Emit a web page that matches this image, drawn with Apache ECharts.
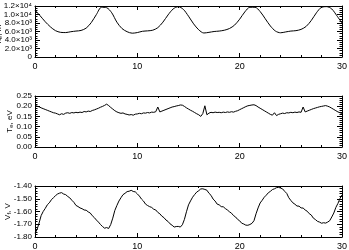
<!DOCTYPE html>
<html><head><meta charset="utf-8">
<script src="https://cdn.jsdelivr.net/npm/echarts@6/dist/echarts.min.js"></script>
<style>html,body{margin:0;padding:0;background:#fff}#c{width:349px;height:250px}</style>
</head><body><div id="c"></div>
<script>
// time step of each sampled series (time axis 0..30)
const dtN = 0.5;
const dtT = 0.2;
const xTicks = [0, 10, 20, 30];

// density, sampled every 0.5
const nVals = [
 11000, 9700, 8300, 7100, 6200, 5800, 5750, 5950, 6100, 6250,
 6800, 8100, 10000, 11700, 11600, 10400, 8200, 6700, 5950, 5600,
 5750, 6050, 6150, 6300, 6900, 8200, 9900, 11300, 11850, 11200,
 9600, 7800, 6400, 5650, 5800, 6000, 6100, 6300, 6700, 7500,
 8900, 10600, 11700, 11700, 10700, 9000, 7300, 6100, 5700, 5900,
 6100, 6200, 6500, 7200, 8600, 10400, 11700, 11850, 11300, 9700,
 8000
];

// electron temperature, sampled every 0.2
const teVals = [
 0.205, 0.200, 0.197, 0.192, 0.188,
 0.184, 0.180, 0.176, 0.172, 0.168,
 0.166, 0.162, 0.158, 0.163, 0.160,
 0.166, 0.168, 0.165, 0.169, 0.167,
 0.170, 0.168, 0.171, 0.169, 0.174,
 0.172, 0.176, 0.174, 0.179, 0.182,
 0.186, 0.190, 0.195, 0.199, 0.204,
 0.210, 0.203, 0.194, 0.186, 0.178,
 0.172, 0.168, 0.165, 0.167, 0.162,
 0.160, 0.157, 0.159, 0.156, 0.161,
 0.162, 0.165, 0.163, 0.167, 0.166,
 0.169, 0.167, 0.171, 0.170, 0.173,
 0.196, 0.172, 0.176, 0.180, 0.184,
 0.188, 0.192, 0.196, 0.198, 0.201,
 0.203, 0.206, 0.205, 0.199, 0.192,
 0.186, 0.180, 0.175, 0.169, 0.163,
 0.158, 0.150, 0.164, 0.202, 0.158,
 0.166, 0.170, 0.168, 0.171, 0.169,
 0.170, 0.168, 0.171, 0.169, 0.172,
 0.170, 0.173, 0.171, 0.175, 0.178,
 0.183, 0.188, 0.193, 0.198, 0.202,
 0.204, 0.206, 0.207, 0.203, 0.196,
 0.190, 0.184, 0.178, 0.172, 0.166,
 0.160, 0.156, 0.168, 0.154, 0.160,
 0.163, 0.166, 0.164, 0.168, 0.167,
 0.170, 0.168, 0.171, 0.169, 0.172,
 0.170, 0.196, 0.172, 0.176, 0.180,
 0.184, 0.188, 0.191, 0.194, 0.197,
 0.199, 0.201, 0.203, 0.200, 0.196,
 0.190, 0.184, 0.178, 0.172, 0.168,
 0.165
];

// floating potential, sampled every 0.2
const vfVals = [
 -1.770, -1.742, -1.690, -1.632, -1.600,
 -1.576, -1.548, -1.532, -1.508, -1.492,
 -1.476, -1.463, -1.456, -1.452, -1.463,
 -1.468, -1.482, -1.493, -1.512, -1.528,
 -1.552, -1.561, -1.572, -1.578, -1.588,
 -1.590, -1.603, -1.612, -1.633, -1.648,
 -1.667, -1.683, -1.702, -1.718, -1.731,
 -1.726, -1.733, -1.702, -1.652, -1.592,
 -1.553, -1.518, -1.492, -1.468, -1.457,
 -1.444, -1.441, -1.434, -1.443, -1.446,
 -1.462, -1.479, -1.502, -1.518, -1.542,
 -1.553, -1.562, -1.568, -1.582, -1.588,
 -1.607, -1.618, -1.637, -1.648, -1.667,
 -1.678, -1.697, -1.708, -1.722, -1.718,
 -1.717, -1.722, -1.704, -1.662, -1.602,
 -1.548, -1.517, -1.488, -1.467, -1.448,
 -1.437, -1.423, -1.422, -1.427, -1.433,
 -1.457, -1.473, -1.502, -1.518, -1.542,
 -1.548, -1.562, -1.563, -1.577, -1.588,
 -1.602, -1.613, -1.632, -1.643, -1.662,
 -1.673, -1.692, -1.698, -1.707, -1.708,
 -1.702, -1.693, -1.672, -1.618, -1.572,
 -1.533, -1.512, -1.488, -1.472, -1.453,
 -1.442, -1.428, -1.422, -1.413, -1.411,
 -1.416, -1.423, -1.442, -1.458, -1.492,
 -1.513, -1.532, -1.543, -1.557, -1.558,
 -1.572, -1.573, -1.588, -1.598, -1.617,
 -1.628, -1.652, -1.663, -1.677, -1.683,
 -1.692, -1.688, -1.691, -1.683, -1.672,
 -1.643, -1.612, -1.568, -1.537, -1.498,
 -1.470
];

// y-axis ranges / tick spacing
const nRange = [0, 12000, 2000];
const teRange = [0, 0.25, 0.05];
const vfRange = [-1.8, -1.4, 0.1];

const FONT = '"Liberation Sans", Arial, sans-serif';
const BLACK = '#000';

const chart = echarts.init(document.getElementById('c'), null, {renderer: 'canvas'});

const grids = [
  {left: 35, right: 7, top: 6, height: 51, outerBoundsMode: 'none', containLabel: false},
  {left: 35, right: 7, top: 96, height: 51, outerBoundsMode: 'none', containLabel: false},
  {left: 35, right: 7, top: 186, height: 51, outerBoundsMode: 'none', containLabel: false}
];

function xAx(gi, pos) {
  return {
    type: 'value', gridIndex: gi, position: pos, min: xTicks[0], max: xTicks[xTicks.length - 1],
    interval: xTicks[1] - xTicks[0],
    axisLine: {show: true, onZero: false, lineStyle: {color: BLACK, width: 1}},
    axisTick: {show: true, inside: true, length: 4, lineStyle: {color: BLACK}},
    minorTick: {show: true, splitNumber: 5, length: 2, lineStyle: {color: BLACK}},
    splitLine: {show: false},
    axisLabel: {show: pos === 'bottom', color: BLACK, fontSize: 9, fontFamily: FONT, margin: 5,
                showMinLabel: true, showMaxLabel: true}
  };
}

function yAx(gi, pos, range, fmt, name, minorN, fs) {
  const ax = {
    type: 'value', gridIndex: gi, position: pos, min: range[0], max: range[1], interval: range[2],
    axisLine: {show: true, onZero: false, lineStyle: {color: BLACK, width: 1}},
    axisTick: {show: true, inside: true, length: 5, lineStyle: {color: BLACK}},
    minorTick: {show: true, splitNumber: minorN, length: 2.5, lineStyle: {color: BLACK}},
    splitLine: {show: false},
    axisLabel: {show: pos === 'left', color: BLACK, fontSize: fs, fontFamily: FONT, margin: 3,
                formatter: fmt, showMinLabel: true, showMaxLabel: true, hideOverlap: false,
                lineHeight: 7}
  };
  if (pos === 'left' && name) {
    ax.name = name.text;
    ax.nameLocation = 'middle';
    ax.nameGap = name.gap;
    ax.nameRotate = 90;
    ax.nameMoveOverlap = false;
    ax.nameTextStyle = {color: BLACK, fontSize: 8, fontFamily: FONT,
      rich: {a: {fontSize: 8, fontFamily: FONT, color: BLACK},
             sub: {fontSize: 6, fontFamily: FONT, color: BLACK, padding: [3, 0, 0, 0]},
             sup: {fontSize: 6, fontFamily: FONT, color: BLACK, padding: [0, 0, 4, 0]}}};
  }
  return ax;
}

const SUP = {3: '\u00B3', 4: '\u2074'};
function nFmt(v) {
  if (v === 0) return '0';
  const e = v >= 10000 ? 4 : 3;
  const m = (v / Math.pow(10, e)).toFixed(1);
  return m + '\u00D710' + SUP[e];
}
const f2 = v => v.toFixed(2);

const toPairs = (vals, dt) => vals.map((v, i) => [+(i * dt).toFixed(2), v]);

const lineSeries = (gi, vals, dt, smooth) => ({
  type: 'line', xAxisIndex: gi * 2, yAxisIndex: gi * 2, data: toPairs(vals, dt),
  showSymbol: false, smooth: smooth, lineStyle: {color: BLACK, width: 1}, animation: false
});

chart.setOption({
  backgroundColor: '#fff',
  animation: false,
  grid: grids,
  xAxis: [xAx(0, 'bottom'), xAx(0, 'top'), xAx(1, 'bottom'), xAx(1, 'top'), xAx(2, 'bottom'), xAx(2, 'top')],
  yAxis: [
    yAx(0, 'left', nRange, nFmt, {text: '{a|n}{sub|e}{a|, m}{sup|-3}', gap: 31}, 4, 8),
    yAx(0, 'right', nRange, nFmt, null, 4, 8),
    yAx(1, 'left', teRange, f2, {text: '{a|T}{sub|e}{a|, eV}', gap: 21}, 5, 8),
    yAx(1, 'right', teRange, f2, null, 5, 8),
    yAx(2, 'left', vfRange, f2, {text: '{a|V}{sub|f}{a|, V}', gap: 23}, 5, 8),
    yAx(2, 'right', vfRange, f2, null, 5, 8)
  ],
  series: [
    lineSeries(0, nVals, dtN, 0.3),
    lineSeries(1, teVals, dtT, false),
    lineSeries(2, vfVals, dtT, false)
  ]
});
</script>
</body></html>
